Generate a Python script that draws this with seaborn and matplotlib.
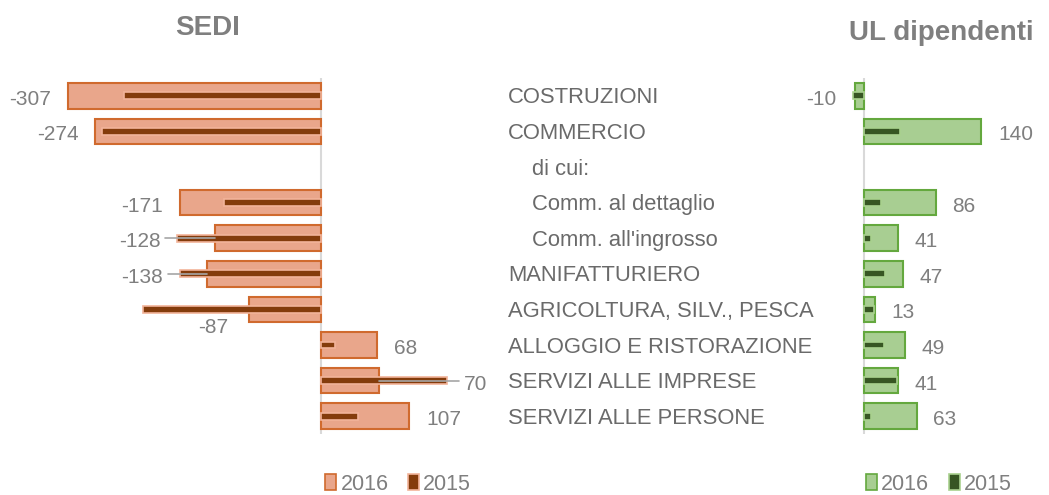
import matplotlib
matplotlib.use('Agg')
import matplotlib.pyplot as plt
import matplotlib.transforms as mtransforms
from matplotlib.patches import Patch
import numpy as np
import pandas as pd
import seaborn as sns

sns.set_style('white')
plt.rcParams['font.family'] = ['Liberation Sans', 'DejaVu Sans']


## Data

categories = ['COSTRUZIONI', 'COMMERCIO', 'di cui:', 'Comm. al dettaglio',
              "Comm. all'ingrosso", 'MANIFATTURIERO', 'AGRICOLTURA, SILV., PESCA',
              'ALLOGGIO E RISTORAZIONE', 'SERVIZI ALLE IMPRESE', 'SERVIZI ALLE PERSONE']
sub_items = ['di cui:', 'Comm. al dettaglio', "Comm. all'ingrosso"]

sedi_2016 = [-307, -274, np.nan, -171, -128, -138, -87, 68, 70, 107]
sedi_2015 = [-239, -266, np.nan, -118, -174, -171, -216, 17, 153, 45]
ul_2016 = [-10, 140, np.nan, 86, 41, 47, 13, 49, 41, 63]
ul_2015 = [-13, 43, np.nan, 21, 9, 25, 12, 24, 39, 9]

years = ['2016', '2015']

ORANGE = '#E9A68B'
ORANGE_EDGE = '#D06A2E'
BROWN = '#843C0C'
BROWN_EDGE = '#F2B49A'
GREEN = '#A8CE92'
GREEN_EDGE = '#64A83E'
DKGREEN = '#375623'
DKGREEN_EDGE = '#A9D18E'

LABEL_GRAY = '#6A6A6A'
NUM_GRAY = '#7F7F7F'


def px(v, total):
    return v / total


W, H = 1049, 495
fig = plt.figure(figsize=(W / 100, H / 100), dpi=100)

# axes rows 0..9 span pixel y 78..434
ax_bottom = px(H - 434, H)
ax_height = px(356, H)
ax1 = fig.add_axes([px(10, W), ax_bottom, px(490, W), ax_height])
ax2 = fig.add_axes([px(790, W), ax_bottom, px(255, W), ax_height])


def draw_panel(ax, v16, v15, xlim, fill, edge, dark, dark_edge, below=()):
    df = pd.DataFrame({'cat': categories, 'v16': v16, 'v15': v15})
    sns.barplot(data=df, x='v16', y='cat', order=categories, orient='h',
                width=0.72, color=fill, edgecolor=edge, linewidth=1.5,
                saturation=1, ax=ax)
    sns.barplot(data=df, x='v15', y='cat', order=categories, orient='h',
                width=0.19, color=dark, edgecolor=dark_edge, linewidth=1.2,
                saturation=1, ax=ax)
    ax.axvline(0, color='#D9D9D9', lw=1.5, zorder=0)
    ax.set_xlim(*xlim)
    ax.set_ylim(9.5, -0.5)
    ax.set_xticks([])
    ax.set_yticks([])
    ax.set_xlabel('')
    ax.set_ylabel('')
    sns.despine(ax=ax, left=True, bottom=True)

    span = xlim[1] - xlim[0]
    # data labels for 2016
    for i, (a, b) in enumerate(zip(v16, v15)):
        if np.isnan(a):
            continue
        sign = 1 if a >= 0 else -1
        anchor = b if abs(b) > abs(a) else a
        if i in below:
            ax.annotate(f'{a:.0f}', xy=(a, i), xytext=(-15, -13),
                        textcoords='offset points', ha='right', va='center',
                        fontsize=15, color=NUM_GRAY)
            continue
        if abs(b) - abs(a) > 0.05 * span:
            # leader line from label back to the 2016 bar
            ax.plot([a, b + sign * 0.025 * span], [i, i], color='#A6A6A6',
                    lw=1.2, zorder=5)
        ax.annotate(f'{a:.0f}', xy=(anchor, i), xytext=(sign * 12, -2.5),
                    textcoords='offset points',
                    ha='left' if sign > 0 else 'right', va='center',
                    fontsize=15, color=NUM_GRAY)


draw_panel(ax1, sedi_2016, sedi_2015, (-377, 217), ORANGE, ORANGE_EDGE,
           BROWN, BROWN_EDGE, below=(6,))
draw_panel(ax2, ul_2016, ul_2015, (-88, 216), GREEN, GREEN_EDGE,
           DKGREEN, DKGREEN_EDGE)

# category labels in the middle
trans = mtransforms.blended_transform_factory(fig.transFigure, ax1.transData)
for i, cat in enumerate(categories):
    x0 = 532 if cat in sub_items else 508
    fig.text(px(x0, W), i + 0.06, cat, transform=trans, ha='left', va='center',
             fontsize=15.8, color=LABEL_GRAY)

# titles
fig.text(px(208, W), 1 - px(28, H), 'SEDI', ha='center', va='center',
         fontsize=20, fontweight='bold', color=NUM_GRAY)
fig.text(px(941, W), 1 - px(33, H), 'UL dipendenti', ha='center', va='center',
         fontsize=20, fontweight='bold', color=NUM_GRAY)

# legends
h1 = [Patch(facecolor=ORANGE, edgecolor=ORANGE_EDGE, lw=1.2),
      Patch(facecolor=BROWN, edgecolor=BROWN_EDGE, lw=1.2)]
h2 = [Patch(facecolor=GREEN, edgecolor=GREEN_EDGE, lw=1.2),
      Patch(facecolor=DKGREEN, edgecolor=DKGREEN_EDGE, lw=1.2)]
for handles, xc in ((h1, 398), (h2, 939)):
    fig.legend(handles, years, loc='center', bbox_to_anchor=(px(xc, W), 1 - px(484, H)),
               ncol=2, frameon=False, fontsize=15.5, labelcolor=NUM_GRAY,
               handlelength=0.5, handleheight=0.7, handletextpad=0.2,
               columnspacing=0.9, borderpad=0)

fig.savefig('out.png', dpi=100)
